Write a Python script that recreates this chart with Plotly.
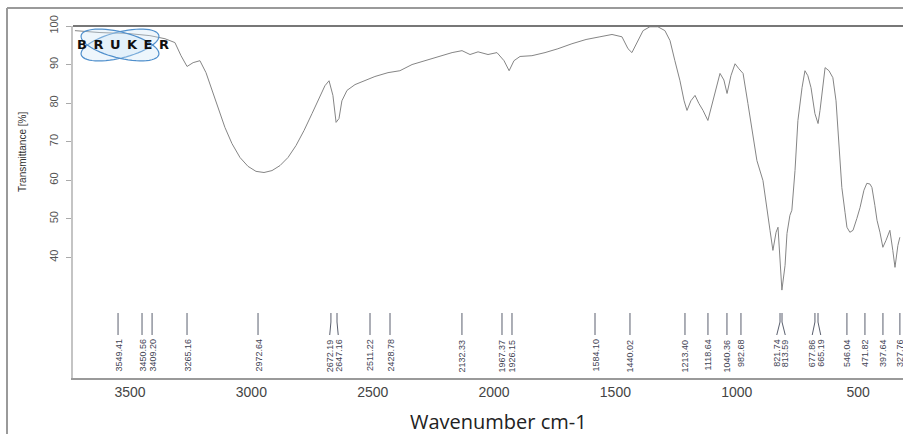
import numpy as np
import plotly.graph_objects as go

# ---------------- data ----------------
wavenumber = [3727, 3624, 3500, 3418, 3356, 3315, 3290, 3265, 3240, 3212, 3187, 3162, 3137, 3109,
              3080, 3047, 3014, 2981, 2948, 2915, 2882, 2849, 2816, 2783, 2750, 2721, 2697, 2680,
              2664, 2651, 2639, 2627, 2606, 2573, 2532, 2491, 2437, 2388, 2338, 2285, 2223, 2173,
              2132, 2099, 2066, 2025, 1988, 1959, 1938, 1918, 1893, 1844, 1790, 1737, 1679, 1621,
              1564, 1514, 1473, 1448, 1432, 1411, 1386, 1358, 1325, 1296, 1275, 1255, 1234, 1217,
              1205, 1189, 1172, 1156, 1139, 1119, 1102, 1086, 1069, 1053, 1040, 1024, 1007, 991,
              974, 954, 933, 917, 892, 876, 863, 851, 838, 830, 822, 814, 801, 793, 781, 773, 760,
              748, 731, 719, 707, 694, 678, 665, 657, 649, 636, 620, 604, 591, 583, 575, 567, 554,
              546, 534, 521, 505, 492, 476, 464, 451, 443, 431, 422, 410, 398, 385, 369, 357, 348,
              336, 328]
transmittance = [98.8, 98.3, 98.0, 97.5, 96.7, 95.7, 92.3, 89.5, 90.5, 91.0, 87.9, 83.3, 78.6, 73.7,
                 69.5, 65.9, 63.6, 62.3, 62.0, 62.5, 63.8, 65.9, 69.0, 72.9, 77.3, 81.4, 84.5, 85.8,
                 82.0, 75.0, 76.0, 80.6, 83.3, 84.8, 85.8, 86.9, 87.9, 88.4, 90.0, 91.0, 92.1, 93.1,
                 93.6, 92.6, 93.3, 92.6, 93.1, 91.0, 88.4, 91.0, 92.1, 92.3, 93.1, 94.1, 95.4, 96.5,
                 97.2, 97.8, 97.2, 94.1, 93.1, 95.7, 98.8, 99.8, 99.8, 98.8, 96.2, 91.0, 85.8, 80.6,
                 78.1, 80.6, 82.0, 79.9, 78.1, 75.5, 79.4, 83.8, 87.7, 86.0, 82.5, 87.1, 90.2, 88.9,
                 87.7, 79.9, 71.1, 65.1, 59.9, 52.2, 47.0, 41.8, 46.5, 47.8, 39.2, 31.5, 37.9, 46.2,
                 50.9, 52.2, 62.5, 75.5, 84.0, 88.4, 87.1, 84.0, 77.3, 74.7, 78.1, 82.5, 89.2, 88.4,
                 86.6, 80.6, 73.7, 65.1, 58.1, 51.7, 47.8, 46.5, 47.0, 50.1, 52.9, 57.4, 59.2, 59.0,
                 58.1, 53.5, 49.6, 46.5, 42.6, 44.4, 47.0, 41.8, 37.4, 43.1, 45.2]

peak_wn = [3549.41, 3450.56, 3409.20, 3265.16, 2972.64, 2672.19, 2647.16, 2511.22, 2428.78,
           2132.33, 1967.37, 1926.15, 1584.10, 1440.02, 1213.40, 1118.64, 1040.36, 982.68,
           821.74, 813.59, 677.86, 665.19, 546.04, 471.82, 397.64, 327.76]

x_ticks = [3500, 3000, 2500, 2000, 1500, 1000, 500]
y_ticks = [40, 50, 60, 70, 80, 90, 100]

X_RANGE = [3735, 315]
Y_RANGE = [8.7, 100]

# ---------------- layout helpers (page pixel coords) ----------------
W, H = 903, 434
L, R, T, B = 73, 903, 26, 378              # plot area in page pixels


def pxx(px):
    return (px - L) / (R - L)


def pxy(py):
    return (B - py) / (B - T)


def wn_to_px(v):
    return L + (X_RANGE[0] - v) / (X_RANGE[0] - X_RANGE[1]) * (R - L)


def px_to_wn(px):
    return X_RANGE[0] - (px - L) / (R - L) * (X_RANGE[0] - X_RANGE[1])


fig = go.Figure()
fig.add_trace(go.Scatter(x=wavenumber, y=transmittance, mode="lines",
                         line=dict(color="#858585", width=1.0), hoverinfo="skip",
                         showlegend=False))

# peak labels: spread crowded labels apart
peak_px = [wn_to_px(v) for v in peak_wn]
lab_px = list(peak_px)
GAP = 8.5
for i in range(1, len(lab_px)):
    g = lab_px[i] - lab_px[i - 1]
    if g < GAP:
        d = GAP - g
        lab_px[i - 1] -= d / 2
        lab_px[i] += d / 2

shapes = []
annotations = []
y_top, y_mid, y_bot = pxy(313), pxy(322), pxy(335)
for v, p, lp in zip(peak_wn, peak_px, lab_px):
    xv = v
    xl = px_to_wn(lp)
    shapes.append(dict(type="path", xref="x", yref="paper",
                       path=f"M {xv},{y_top} L {xv},{y_mid} L {xl},{y_bot}",
                       line=dict(color="#5a5f6e", width=1)))
    annotations.append(dict(x=xl, y=pxy(337), xref="x", yref="paper", text=f"{v:.2f}",
                            textangle=-90, showarrow=False, xanchor="center", yanchor="top",
                            font=dict(family="Liberation Sans Narrow, Liberation Sans, Arial",
                                      size=9, color="#3f4454")))

# outer frame lines
shapes.append(dict(type="line", xref="paper", yref="paper", x0=pxx(7), x1=pxx(7),
                   y0=pxy(8), y1=pxy(H + 20), line=dict(color="#9a9a9a", width=2)))
shapes.append(dict(type="line", xref="paper", yref="paper", x0=pxx(7), x1=pxx(W + 20),
                   y0=pxy(8), y1=pxy(8), line=dict(color="#9a9a9a", width=2)))
# top plot border (darker)
shapes.append(dict(type="line", xref="paper", yref="paper", x0=0, x1=1.02, y0=1, y1=1,
                   line=dict(color="#777777", width=2)))

# logo: two tilted orbit ellipses
t = np.linspace(0, 2 * np.pi, 60)
for ang in (-14, 14):
    a = np.deg2rad(ang)
    cx, cy, rx, ry = 120, 45, 40, 13
    xs = cx + rx * np.cos(t) * np.cos(a) - ry * np.sin(t) * np.sin(a)
    ys = cy + rx * np.cos(t) * np.sin(a) + ry * np.sin(t) * np.cos(a)
    path = "M " + " L ".join(f"{pxx(x):.4f},{pxy(y):.4f}" for x, y in zip(xs, ys)) + " Z"
    shapes.append(dict(type="path", xref="paper", yref="paper", path=path,
                       line=dict(color="#4f8fcc", width=1.2),
                       fillcolor="rgba(205,228,246,0.35)"))
annotations.append(dict(x=pxx(123), y=pxy(45), xref="paper", yref="paper",
                        text="B\u2002R\u2002U\u2002K\u2002E\u2002R", showarrow=False,
                        xanchor="center", yanchor="middle",
                        font=dict(family="DejaVu Sans", size=13, color="#111111",
                                  weight="bold")))

# axis titles
annotations.append(dict(x=pxx(22), y=pxy(152), xref="paper", yref="paper",
                        text="Transmittance [%]", textangle=-90, showarrow=False,
                        xanchor="center", yanchor="middle",
                        font=dict(family="Liberation Sans Narrow, Liberation Sans, Arial",
                                  size=10, color="#333333")))
annotations.append(dict(x=pxx(498), y=pxy(421), xref="paper", yref="paper",
                        text="Wavenumber cm-1", showarrow=False,
                        xanchor="center", yanchor="middle",
                        font=dict(family="Open Sans, Noto Sans, Arial", size=20,
                                  color="#222222")))

fig.update_layout(
    width=W, height=H,
    margin=dict(l=L, r=W - R, t=T, b=H - B, pad=0),
    paper_bgcolor="white", plot_bgcolor="white",
    shapes=shapes, annotations=annotations,
    xaxis=dict(range=X_RANGE, tickvals=x_ticks, ticktext=[str(v) for v in x_ticks],
               showgrid=False, zeroline=False, showline=True, linecolor="#9a9a9a",
               linewidth=1.5, ticks="", ticklabelstandoff=0,
               tickfont=dict(family="Liberation Sans Narrow, Liberation Sans, Arial",
                             size=14, color="#444444")),
    yaxis=dict(range=Y_RANGE, tickvals=y_ticks, ticktext=[str(v) for v in y_ticks],
               showgrid=False, zeroline=False, showline=True, linecolor="#c4c4c4",
               linewidth=1.5, ticks="outside", ticklen=5, tickcolor="#aaaaaa",
               tickangle=-90, ticklabelstandoff=4,
               tickfont=dict(family="Liberation Sans Narrow, Liberation Sans, Arial",
                             size=11, color="#555555")),
)

fig.write_html("out.html", config={"displayModeBar": False},
               post_script="document.body.style.margin='0';document.body.style.overflow='hidden';")
